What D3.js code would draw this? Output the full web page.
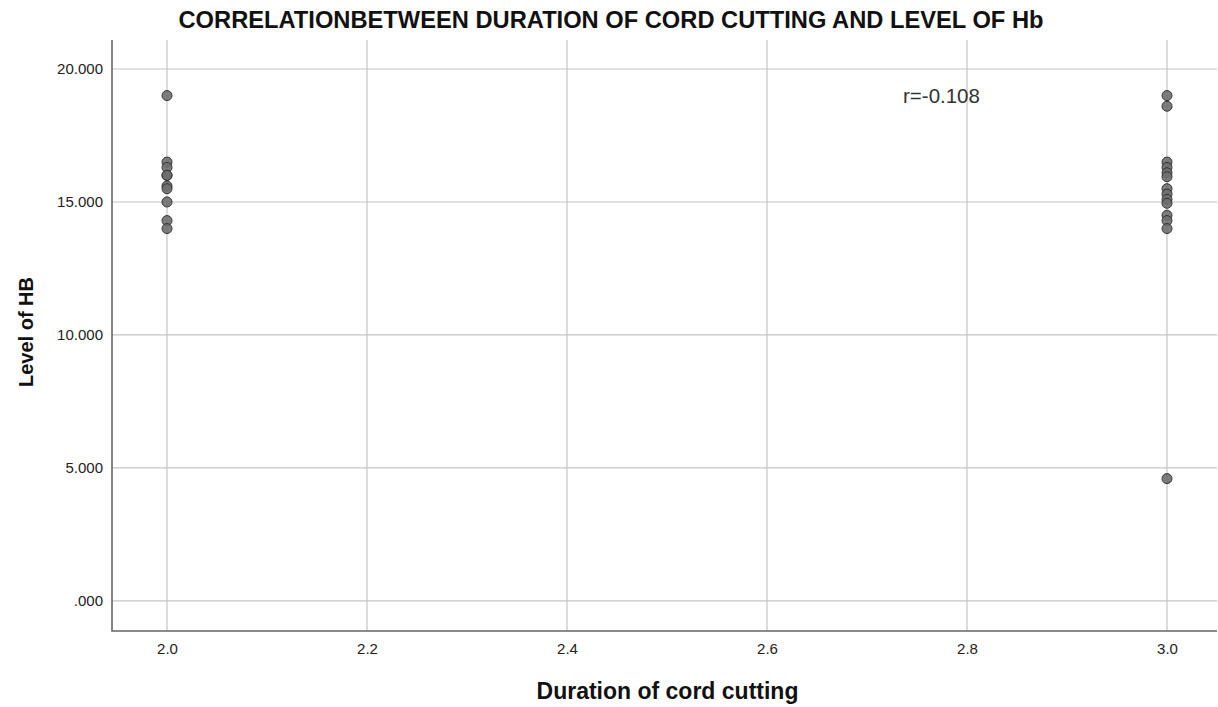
<!DOCTYPE html>
<html>
<head>
<meta charset="utf-8">
<script src="https://cdn.jsdelivr.net/npm/d3@7"></script>
<style>
  body { margin: 0; background: #fff; }
  svg { display: block; font-family: Arial, "Liberation Sans", sans-serif; }
</style>
</head>
<body>
<svg id="mainSvg" width="1218" height="707"></svg>
<script>
// data
let durations = [2, 2, 2, 2, 2, 2, 2, 2, 2, 2,
    3, 3, 3, 3, 3, 3, 3, 3, 3, 3, 3, 3, 3, 3]
let hbLevels = [19.0, 16.5, 16.3, 16.0, 16.0, 15.6, 15.5, 15.0, 14.3, 14.0,
    19.0, 18.6, 16.5, 16.3, 16.1, 15.95, 15.5, 15.3, 15.1, 14.95, 14.5, 14.3, 14.0, 4.6]
let xTicks = [2.0, 2.2, 2.4, 2.6, 2.8, 3.0]
let yTicks = [0, 5, 10, 15, 20]
let rLabel = 'r=-0.108'

let svg = d3.select('#mainSvg')
let plotLeft = 112, plotRight = 1217, plotTop = 40, plotBottom = 631

let x = d3.scaleLinear().domain([1.945, 3.05]).range([plotLeft, plotRight])
let y = d3.scaleLinear().domain([-1.13, 21.09]).range([plotBottom, plotTop])

let yFmt = function (d) {
    return d3.format('.3f')(d).replace(/^0\./, '.')
}

// grid
let grid = svg.append('g')
grid.selectAll('line.v')
    .data(xTicks)
    .enter()
    .append('line')
    .attr('x1', d => x(d)).attr('x2', d => x(d))
    .attr('y1', plotTop).attr('y2', plotBottom)
    .attr('stroke', '#c4c4c4')
    .attr('stroke-width', 1.2)
grid.selectAll('line.h')
    .data(yTicks)
    .enter()
    .append('line')
    .attr('x1', plotLeft).attr('x2', plotRight)
    .attr('y1', d => y(d)).attr('y2', d => y(d))
    .attr('stroke', '#c4c4c4')
    .attr('stroke-width', 1.2)

// axes
let xAxis = svg.append('g')
    .attr('transform', 'translate(0,' + plotBottom + ')')
    .call(d3.axisBottom(x).tickValues(xTicks).tickFormat(d3.format('.1f')).tickSize(0).tickPadding(12))
let yAxis = svg.append('g')
    .attr('transform', 'translate(' + plotLeft + ',0)')
    .call(d3.axisLeft(y).tickValues(yTicks).tickFormat(yFmt).tickSize(0).tickPadding(9))

xAxis.select('.domain').remove()
yAxis.select('.domain').remove()
svg.selectAll('.tick text')
    .attr('font-size', 15)
    .attr('fill', '#222')
    .attr('font-family', 'Arial, "Liberation Sans", sans-serif')

svg.append('path')
    .attr('d', 'M' + plotLeft + ' ' + plotTop + ' V' + plotBottom + ' H' + plotRight)
    .attr('fill', 'none')
    .attr('stroke', '#666')
    .attr('stroke-width', 1.6)

// points
svg.append('g')
    .selectAll('circle')
    .data(hbLevels)
    .enter()
    .append('circle')
    .attr('cx', (d, i) => x(durations[i]))
    .attr('cy', d => y(d))
    .attr('r', 5)
    .attr('fill', '#6e6e6e')
    .attr('fill-opacity', 0.9)
    .attr('stroke', '#333')
    .attr('stroke-width', 1)

// annotation
svg.append('text')
    .attr('x', 903)
    .attr('y', 103)
    .attr('font-size', 20.5)
    .attr('fill', '#333')
    .text(rLabel)

// titles
svg.append('text')
    .attr('x', 611)
    .attr('y', 28)
    .attr('text-anchor', 'middle')
    .attr('font-size', 23.7)
    .attr('font-weight', 'bold')
    .attr('fill', '#111')
    .text('CORRELATIONBETWEEN DURATION OF CORD CUTTING AND LEVEL OF Hb')

svg.append('text')
    .attr('x', (plotLeft + plotRight) / 2 + 3)
    .attr('y', 699)
    .attr('text-anchor', 'middle')
    .attr('font-size', 23)
    .attr('font-weight', 'bold')
    .attr('fill', '#111')
    .text('Duration of cord cutting')

svg.append('text')
    .attr('transform', 'translate(33,' + 332 + ') rotate(-90)')
    .attr('text-anchor', 'middle')
    .attr('font-size', 20)
    .attr('font-weight', 'bold')
    .attr('fill', '#111')
    .text('Level of HB')
</script>
</body>
</html>
